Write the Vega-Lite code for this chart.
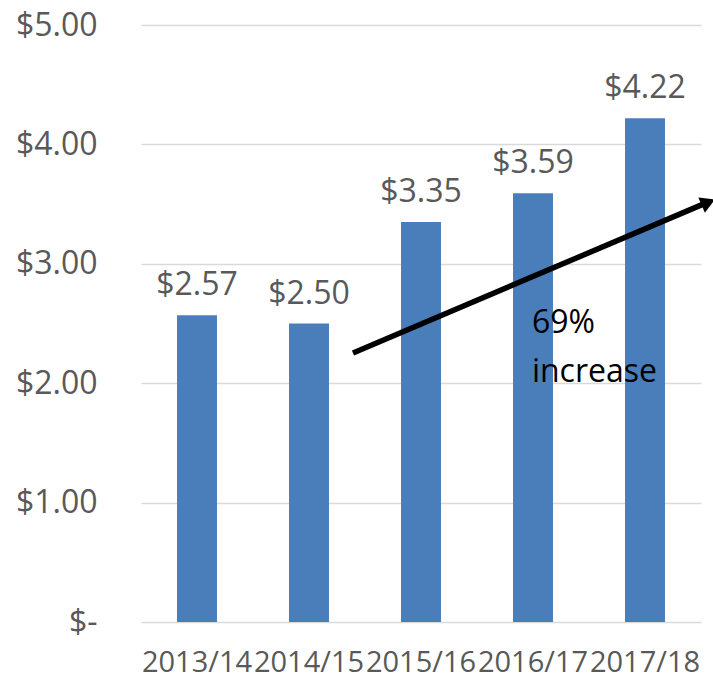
{
  "$schema": "https://vega.github.io/schema/vega-lite/v6.json",
  "autosize": {"type": "none"},
  "padding": {"left": 141, "top": 25, "right": 12, "bottom": 58},
  "width": 560,
  "height": 597,
  "background": "white",
  "config": {"view": {"stroke": null}, "font": "Open Sans"},
  "datasets": {
    "bars": [
      {"year": "2013/14", "price": 2.57},
      {"year": "2014/15", "price": 2.50},
      {"year": "2015/16", "price": 3.35},
      {"year": "2016/17", "price": 3.59},
      {"year": "2017/18", "price": 4.22}
    ],
    "arrow": [
      {"x": 1.893, "y": 2.253, "x2": 5.02, "y2": 3.50}
    ],
    "head": [
      {"x": 5.065, "y": 3.515}
    ],
    "note": [
      {"x": 3.49, "y": 2.42, "label": "69%"},
      {"x": 3.49, "y": 2.01, "label": "increase"}
    ]
  },
  "layer": [
    {
      "data": {"name": "bars"},
      "layer": [
        {
          "mark": {"type": "bar", "color": "#4a7ebb"},
          "encoding": {
            "x": {
              "field": "year", "type": "nominal", "sort": null,
              "scale": {"paddingInner": 0.643, "paddingOuter": 0.3215},
              "axis": {"title": null, "domain": false, "ticks": false, "labelAngle": 0, "labelOverlap": false,
                "labelFontSize": 29, "labelColor": "#595959", "labelPadding": 26, "labelBaseline": "top", "labelFont": "Open Sans"}
            },
            "y": {
              "field": "price", "type": "quantitative",
              "scale": {"domain": [0, 5]},
              "axis": {"title": null, "domain": false, "ticks": false, "values": [0, 1, 2, 3, 4, 5],
                "labelExpr": "datum.value == 0 ? '$-' : '$' + format(datum.value, '.2f')",
                "labelFontSize": 32, "labelColor": "#595959", "labelPadding": 44, "labelFont": "Open Sans",
                "gridColor": "#d9d9d9", "gridWidth": 1.5}
            }
          }
        },
        {
          "mark": {"type": "text", "baseline": "alphabetic", "dy": -20, "fontSize": 32, "color": "#595959", "font": "Open Sans"},
          "encoding": {
            "x": {"field": "year", "type": "nominal", "sort": null},
            "y": {"field": "price", "type": "quantitative"},
            "text": {"field": "price", "type": "quantitative", "format": "$.2f"}
          }
        }
      ]
    },
    {
      "data": {"name": "arrow"},
      "mark": {"type": "rule", "color": "black", "strokeWidth": 5.5},
      "encoding": {
        "x": {"field": "x", "type": "quantitative", "scale": {"domain": [0, 5]}, "axis": null},
        "y": {"field": "y", "type": "quantitative"},
        "x2": {"field": "x2"},
        "y2": {"field": "y2"}
      }
    },
    {
      "data": {"name": "head"},
      "mark": {"type": "point", "shape": "triangle-right", "filled": true, "color": "black", "size": 280, "angle": 337, "opacity": 1},
      "encoding": {
        "x": {"field": "x", "type": "quantitative", "scale": {"domain": [0, 5]}, "axis": null},
        "y": {"field": "y", "type": "quantitative"}
      }
    },
    {
      "data": {"name": "note"},
      "mark": {"type": "text", "align": "left", "baseline": "alphabetic", "fontSize": 32, "color": "black", "font": "Open Sans"},
      "encoding": {
        "x": {"field": "x", "type": "quantitative", "scale": {"domain": [0, 5]}, "axis": null},
        "y": {"field": "y", "type": "quantitative"},
        "text": {"field": "label"}
      }
    }
  ],
  "resolve": {"scale": {"x": "independent"}}
}
